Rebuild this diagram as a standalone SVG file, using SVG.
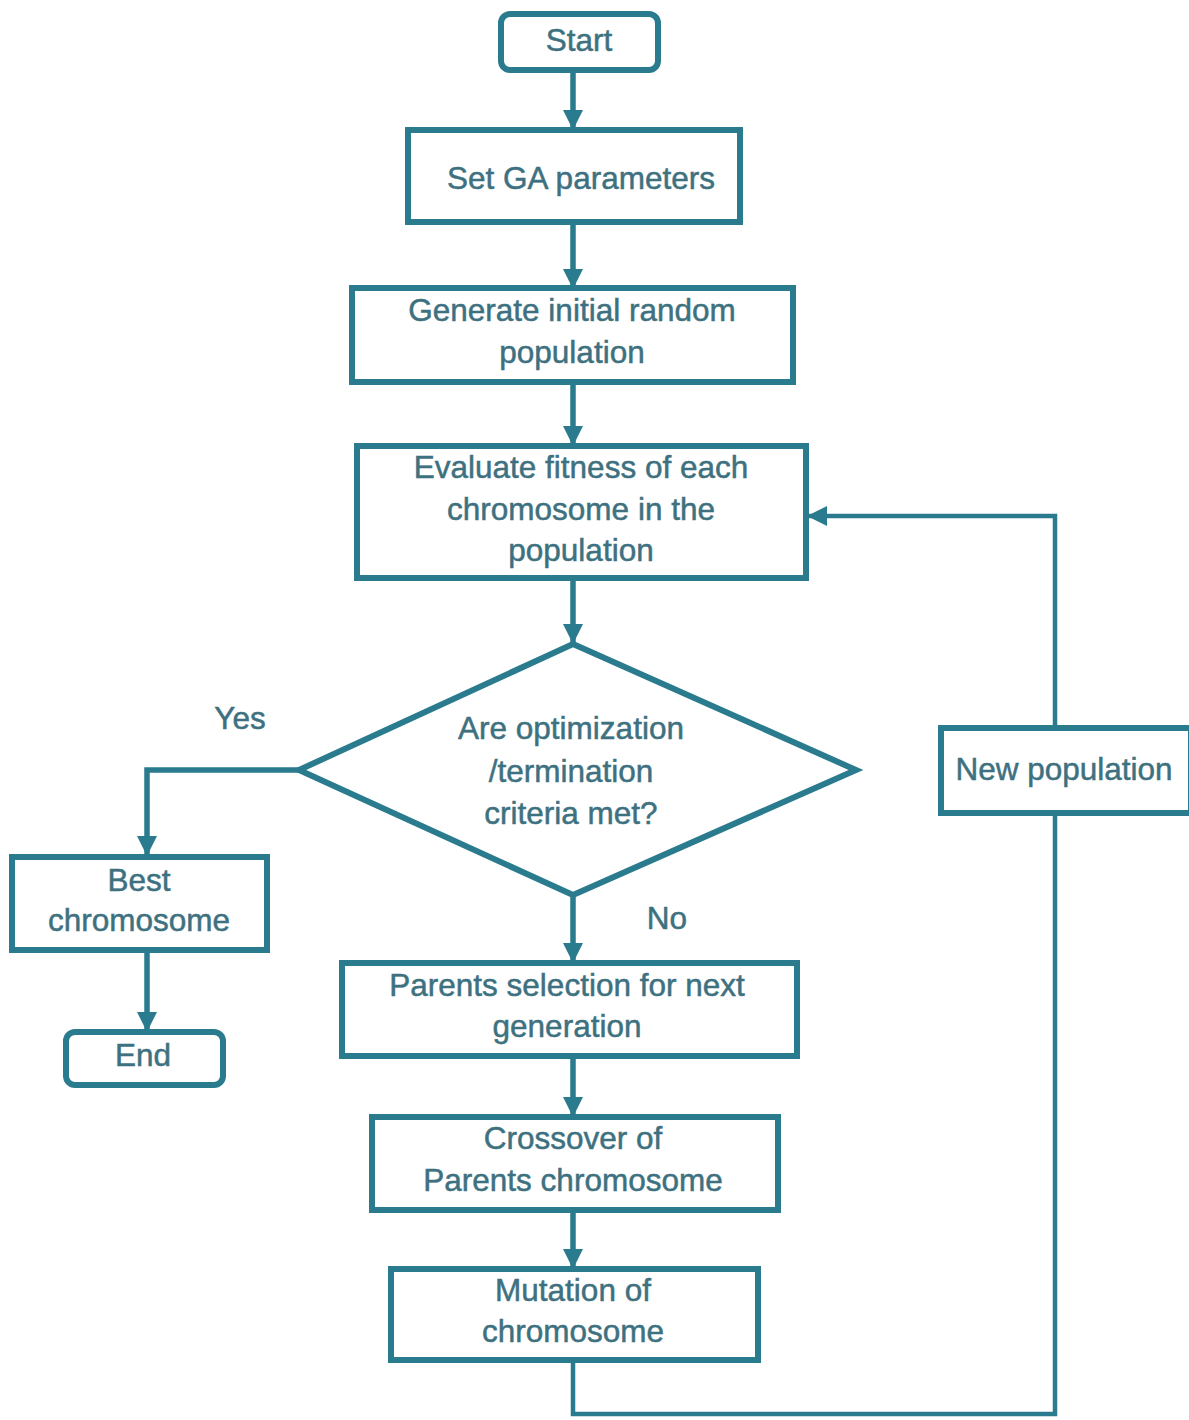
<svg xmlns="http://www.w3.org/2000/svg" width="1189" height="1420" viewBox="0 0 1189 1420">
<style>
.box{fill:#fff;stroke:#2a7b8e;stroke-width:6}
.ln{fill:none;stroke:#2a7b8e;stroke-width:5.5}
.lp{fill:none;stroke:#2a7b8e;stroke-width:4.5}
text{font-family:"Liberation Sans",Arial,sans-serif;font-size:31.5px;fill:#3e7180;stroke:#3e7180;stroke-width:0.5;text-anchor:middle;dominant-baseline:central}
</style>
<defs>
<marker id="ah" markerUnits="userSpaceOnUse" markerWidth="22" markerHeight="22" refX="18" refY="11" orient="auto">
<path d="M0,1 L20,11 L0,21 Z" fill="#2a7b8e"/>
</marker>
</defs>
<rect width="1189" height="1420" fill="#fff"/>
<g id="connectors">
<line class="ln" x1="573" y1="70" x2="573" y2="128" marker-end="url(#ah)"/>
<line class="ln" x1="573" y1="222" x2="573" y2="287" marker-end="url(#ah)"/>
<line class="ln" x1="573" y1="382" x2="573" y2="444" marker-end="url(#ah)"/>
<line class="ln" x1="573" y1="578" x2="573" y2="642" marker-end="url(#ah)"/>
<polyline class="ln" points="298,770 147,770 147,854" marker-end="url(#ah)"/>
<line class="ln" x1="147" y1="950" x2="147" y2="1030" marker-end="url(#ah)"/>
<line class="ln" x1="573" y1="895" x2="573" y2="961" marker-end="url(#ah)"/>
<line class="ln" x1="573" y1="1056" x2="573" y2="1115" marker-end="url(#ah)"/>
<line class="ln" x1="573" y1="1210" x2="573" y2="1267" marker-end="url(#ah)"/>
<polyline class="lp" points="573,1360 573,1414 1055,1414 1055,813"/>
<polyline class="lp" points="1055,727 1055,516 809,516" marker-end="url(#ah)"/>
<text x="240" y="718">Yes</text>
<text x="667" y="918">No</text>
</g>
<g id="start"><rect class="box" x="501" y="14" width="157" height="56" rx="9"/><text x="579" y="40">Start</text></g>
<g id="set-ga"><rect class="box" x="408" y="130" width="332" height="92"/><text x="581" y="178">Set GA parameters</text></g>
<g id="generate"><rect class="box" x="352" y="288" width="441" height="94"/><text x="572" y="310">Generate initial random</text><text x="572" y="352">population</text></g>
<g id="evaluate"><rect class="box" x="357" y="446" width="449" height="132"/><text x="581" y="467">Evaluate fitness of each</text><text x="581" y="509">chromosome in the</text><text x="581" y="550">population</text></g>
<g id="decision"><polygon class="box" points="573,644 856,770 573,895 299,770"/><text x="571" y="728">Are optimization</text><text x="571" y="771">/termination</text><text x="571" y="813">criteria met?</text></g>
<g id="best"><rect class="box" x="12" y="857" width="255" height="93"/><text x="139" y="880">Best</text><text x="139" y="920">chromosome</text></g>
<g id="end"><rect class="box" x="66" y="1032" width="157" height="53" rx="9"/><text x="143" y="1055">End</text></g>
<g id="parents"><rect class="box" x="342" y="963" width="455" height="93"/><text x="567" y="985">Parents selection for next</text><text x="567" y="1026">generation</text></g>
<g id="crossover"><rect class="box" x="372" y="1117" width="406" height="93"/><text x="573" y="1138">Crossover of</text><text x="573" y="1180">Parents chromosome</text></g>
<g id="mutation"><rect class="box" x="391" y="1269" width="367" height="91"/><text x="573" y="1290">Mutation of</text><text x="573" y="1331">chromosome</text></g>
<g id="new-pop"><rect class="box" x="941" y="728" width="250" height="85"/><text x="1064" y="769">New population</text></g>
</svg>
